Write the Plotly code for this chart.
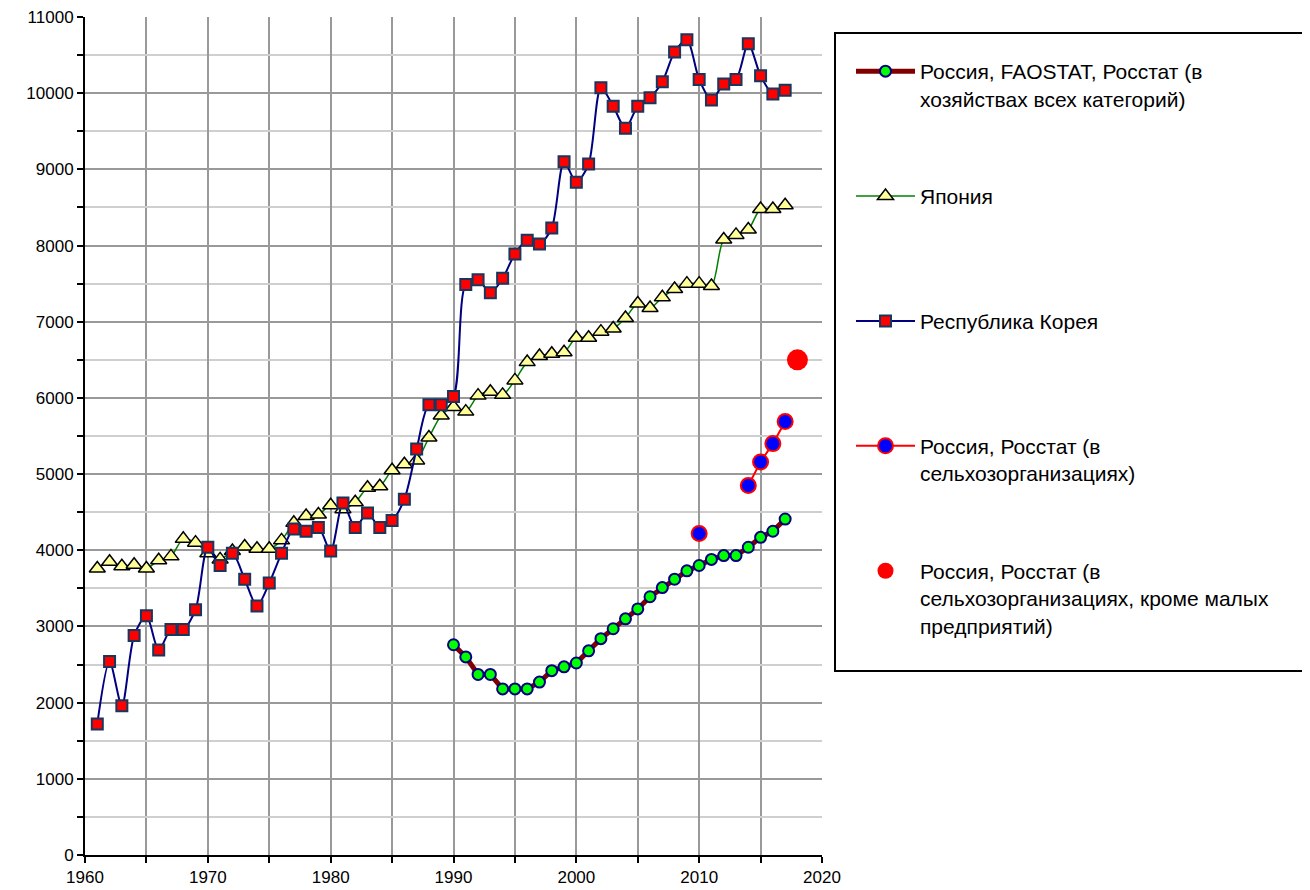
import plotly.graph_objects as go

# ---- data ----
years_korea = list(range(1961, 2018))
korea = [1720, 2540, 1960, 2880, 3140, 2690, 2960, 2960, 3220, 4040,
         3800, 3960, 3620, 3270, 3570, 3960, 4280, 4250, 4300, 3990,
         4620, 4300, 4490, 4300, 4390, 4670, 5330, 5910, 5910, 6020,
         7490, 7550, 7380, 7570, 7890, 8070, 8020, 8230, 9100, 8830,
         9070, 10070, 9830, 9540, 9830, 9940, 10150, 10540, 10700, 10180,
         9910, 10120, 10180, 10650, 10230, 9990, 10040]

years_japan = list(range(1961, 2018))
japan = [3760, 3850, 3790, 3810, 3760, 3870, 3920, 4150, 4100, 3960,
         3880, 3990, 4050, 4020, 4020, 4130, 4360, 4450, 4470, 4590,
         4540, 4630, 4820, 4840, 5050, 5130, 5180, 5480, 5770, 5880,
         5820, 6030, 6080, 6040, 6230, 6470, 6550, 6580, 6600, 6790,
         6790, 6870, 6910, 7050, 7240, 7180, 7320, 7430, 7500, 7500,
         7470, 8080, 8140, 8210, 8480, 8480, 8530]

years_russia = list(range(1990, 2018))
russia_fao = [2760, 2600, 2370, 2370, 2180, 2180, 2180, 2270, 2420, 2470,
              2520, 2680, 2840, 2970, 3100, 3230, 3390, 3510, 3620, 3730,
              3800, 3880, 3930, 3930, 4040, 4170, 4250, 4410]

years_rosstat = [2010, 2011, 2012, 2013, 2014, 2015, 2016, 2017]
russia_rosstat = [4220, None, None, None, 4850, 5160, 5400, 5690]

years_big = [2018]
russia_big = [6500]

names = [
    "Россия, FAOSTAT, Росстат (в<br>хозяйствах всех категорий)<br> ",
    "Япония<br> <br> ",
    "Республика Корея<br> <br> ",
    "Россия, Росстат (в<br>сельхозорганизациях)<br> ",
    "Россия, Росстат (в<br>сельхозорганизациях, кроме малых<br>предприятий)",
]

x_ticks = [1960, 1970, 1980, 1990, 2000, 2010, 2020]
y_ticks = list(range(0, 11001, 1000))

# page body has an 8px margin: work in figure pixels = screen pixels - 8
W, H = 1302, 882
PL, PR, PT, PB = 85 - 8, 822 - 8, 17 - 8, 855 - 8   # plot area in figure px

fig = go.Figure()

fig.add_trace(go.Scatter(
    x=years_russia, y=russia_fao, name=names[0], legendgroup="g1",
    mode="lines+markers",
    line=dict(color="#800000", width=5),
    marker=dict(symbol="circle", size=11, color="#00FF00",
                line=dict(color="#000080", width=2)),
))
fig.add_trace(go.Scatter(
    x=years_japan, y=japan, name=names[1], legendgroup="g2",
    mode="lines+markers",
    line=dict(color="#008000", width=1.5, shape="spline", smoothing=0.8),
    marker=dict(symbol="triangle-up", size=14, color="#FFFF99",
                line=dict(color="#000000", width=1.5)),
))
fig.add_trace(go.Scatter(
    x=years_korea, y=korea, name=names[2], legendgroup="g3",
    mode="lines+markers",
    line=dict(color="#000080", width=2, shape="spline", smoothing=0.8),
    marker=dict(symbol="square", size=11, color="#FF0000",
                line=dict(color="#17375E", width=2)),
))
fig.add_trace(go.Scatter(
    x=years_rosstat, y=russia_rosstat, name=names[3], legendgroup="g4",
    mode="lines+markers", connectgaps=False,
    line=dict(color="#FF0000", width=2),
    marker=dict(symbol="circle", size=15, color="#0000FF",
                line=dict(color="#FF0000", width=2)),
))
fig.add_trace(go.Scatter(
    x=years_big, y=russia_big, name=names[4], legendgroup="g5",
    mode="markers",
    marker=dict(symbol="circle", size=21, color="#FF0000"),
))

tick_font = dict(family="Liberation Sans, Arial", size=17, color="black")

pw, ph = PR - PL, PB - PT
fig.update_layout(
    width=W, height=H,
    margin=dict(l=PL, r=W - PR, t=PT, b=H - PB, autoexpand=False),
    paper_bgcolor="white", plot_bgcolor="white",
    showlegend=True,
    legend=dict(
        xref="container", yref="container",
        x=843 / W, y=1 - 43 / H, xanchor="left", yanchor="top",
        bgcolor="rgba(0,0,0,0)", borderwidth=0,
        font=dict(family="Liberation Sans, Arial", size=21, color="black"),
        itemwidth=59, tracegroupgap=40, valign="top", traceorder="grouped",
        maxheight=860,
    ),
    shapes=[dict(type="rect", xref="paper", yref="paper",
                 x0=(835 - 8 - PL) / pw, x1=(1303 - 8 - PL) / pw,
                 y0=(PB - (671 - 8)) / ph, y1=(PB - (33 - 8)) / ph,
                 line=dict(color="black", width=2), fillcolor="rgba(0,0,0,0)",
                 layer="above")],
)

fig.update_xaxes(
    range=[1960, 2020], tickmode="array", tickvals=x_ticks,
    ticktext=[str(v) for v in x_ticks],
    ticks="outside", ticklen=6, tickwidth=1.5, tickcolor="black",
    showgrid=True, gridcolor="#999999", gridwidth=2,
    showline=True, linecolor="black", linewidth=2, zeroline=False,
    tickfont=tick_font, ticklabeloverflow="allow",
    minor=dict(dtick=5, tick0=1960, ticks="outside", ticklen=6, tickwidth=1.5,
               tickcolor="black", showgrid=True, gridcolor="#999999", gridwidth=2),
)
fig.update_yaxes(
    range=[0, 11000], tickmode="array", tickvals=y_ticks,
    ticktext=[str(v) for v in y_ticks],
    ticks="outside", ticklen=6, tickwidth=1.5, tickcolor="black",
    showgrid=True, gridcolor="#999999", gridwidth=2,
    showline=True, linecolor="black", linewidth=2, zeroline=False,
    tickfont=tick_font, ticklabeloverflow="allow",
    minor=dict(dtick=500, tick0=0, ticks="outside", ticklen=6, tickwidth=1.5,
               tickcolor="black", showgrid=True, gridcolor="#CFCFCF", gridwidth=2),
)

fig.write_html("out.html")
